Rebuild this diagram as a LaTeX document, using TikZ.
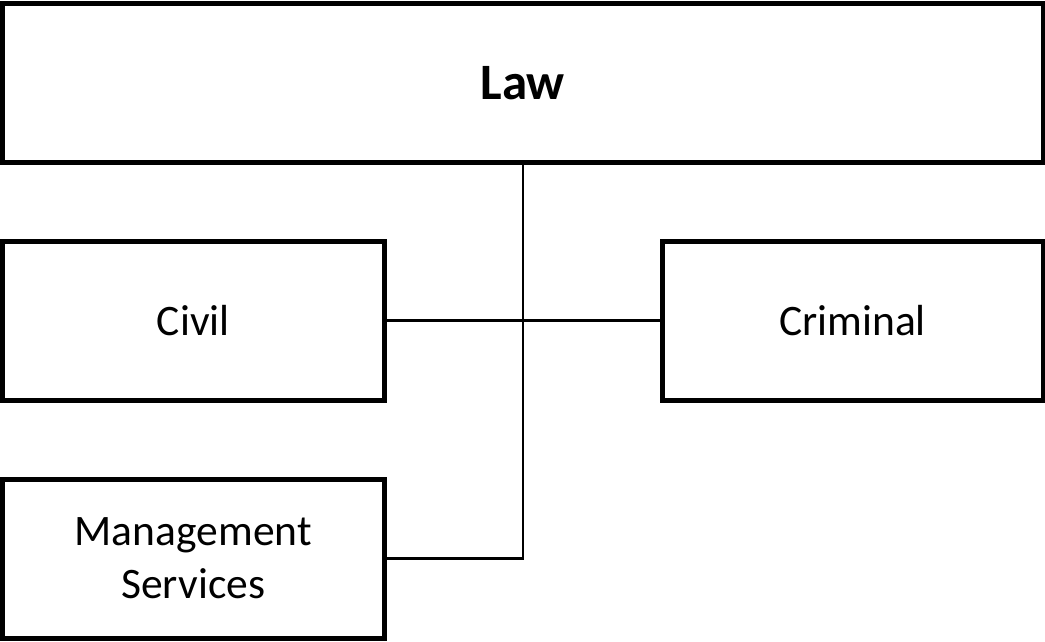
\documentclass[tikz,border=0pt]{standalone}
\usepackage{fontspec}
\setmainfont{Carlito}
\begin{document}
\begin{tikzpicture}[x=1pt,y=-1pt,
  box/.style={draw=black,line width=5pt,fill=white,inner sep=0pt,align=center,
    font=\fontsize{43.5}{53}\selectfont},
  link/.style={draw=black,line width=2.5pt}]
  \useasboundingbox (0,0) rectangle (1045,642);
  % head of the department
  \node[box,minimum width=1040.5pt,minimum height=158.5pt,
        font=\fontsize{51}{60}\selectfont\bfseries] (law) at (522.75,83.25) {Law};
  % divisions
  \node[box,minimum width=382pt,minimum height=159pt] (civil) at (193.25,320.5) {Civil};
  \node[box,minimum width=381pt,minimum height=159pt] (criminal) at (852.5,320.5) {Criminal};
  \node[box,minimum width=382pt,minimum height=159pt] (mgmt) at (193.25,558.5) {Management\\Services};
  % connectors
  \draw[link] (civil.east) -- (criminal.west);
  \draw[link] (law.south) -- (law.south |- mgmt.east) -- (mgmt.east);
\end{tikzpicture}
\end{document}
